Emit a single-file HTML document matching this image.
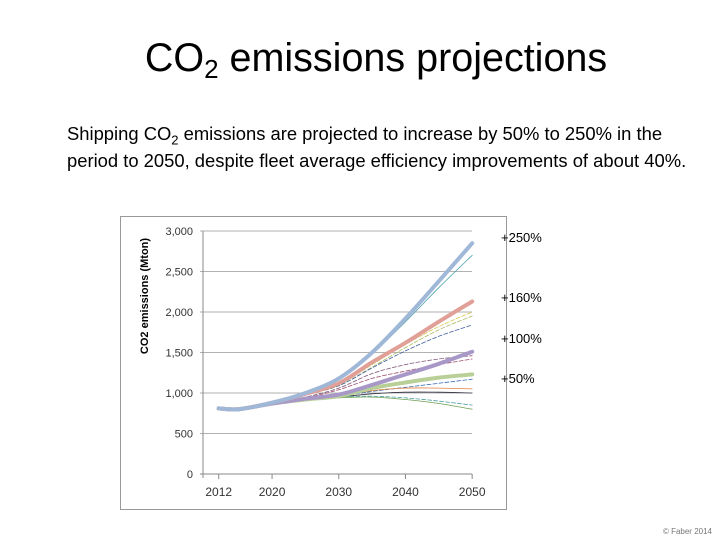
<!DOCTYPE html>
<html><head><meta charset="utf-8"><style>
body{margin:0;width:720px;height:540px;background:#fff;font-family:"Liberation Sans",sans-serif;position:relative;overflow:hidden}
.t{position:absolute;color:#000}
</style></head><body>
<div class="t" style="left:0;width:752px;text-align:center;top:36px;font-size:39.5px;white-space:nowrap">CO<sub style="font-size:26px;vertical-align:-7px">2</sub> emissions projections</div>
<div class="t" style="left:67px;top:120px;font-size:18.4px;line-height:27px;width:660px;white-space:nowrap">Shipping CO<sub style="font-size:13px;line-height:0">2</sub> emissions are projected to increase by 50% to 250% in the<br>period to 2050, despite fleet average efficiency improvements of about 40%.</div>
<svg width="720" height="540" style="position:absolute;left:0;top:0">
<rect x="120.5" y="216.5" width="386" height="293" fill="#fff" stroke="#999"/>
<g id="grid"></g><g id="lines"></g>
<text x="148" y="296" transform="rotate(-90 148 296)" text-anchor="middle" font-size="11" font-weight="bold" font-family="Liberation Sans">CO2 emissions (Mton)</text>
<g font-size="13" font-family="Liberation Sans">
<text x="501" y="242">+250%</text>
<text x="501" y="302">+160%</text>
<text x="501" y="343">+100%</text>
<text x="501" y="383">+50%</text>
</g>
<text x="712" y="534" text-anchor="end" font-size="8" fill="#777">© Faber 2014</text>
</svg>
<script>
const years=[2012,2015,2020,2025,2030,2035,2040,2045,2050];
const yTicks=[0,500,1000,1500,2000,2500,3000];
const xTicks=[2012,2020,2030,2040,2050];
const blueThick=[810,800,880,1000,1180,1500,1920,2380,2850];
const redThick=[810,800,880,990,1120,1380,1620,1880,2130];
const purpleThick=[810,800,870,930,980,1100,1230,1360,1510];
const greenThick=[810,800,870,920,960,1060,1130,1190,1230];
const thin1=[810,800,880,990,1160,1480,1880,2300,2700];
const thin2=[810,800,880,980,1100,1350,1600,1820,2000];
const thin3=[810,800,880,980,1090,1320,1560,1780,1950];
const thin4=[810,800,880,980,1090,1310,1520,1700,1840];
const thin5=[810,800,870,950,1060,1240,1350,1420,1460];
const thin6=[810,800,870,940,1040,1180,1270,1350,1420];
const thin7=[810,800,870,920,960,1020,1070,1120,1170];
const thin8=[810,800,870,920,960,1030,1060,1060,1050];
const thin9=[810,800,870,910,950,990,1010,1010,1000];
const thin10=[810,800,870,920,950,960,940,900,850];
const thin11=[810,800,870,910,940,950,920,870,800];
const X=y=>218.7+(y-2012)*6.67, Y=v=>474-v*0.081;
const ns="http://www.w3.org/2000/svg";
const g=document.getElementById('grid'), L=document.getElementById('lines');
yTicks.forEach(v=>{
 const l=document.createElementNS(ns,'line');
 
 
 l.setAttribute('x1',200);l.setAttribute('x2',472);l.setAttribute('y1',Y(v));l.setAttribute('y2',Y(v));
 l.setAttribute('stroke',v===0?'#888':'#999');l.setAttribute('stroke-width',v===0?1:0.8);g.appendChild(l);
 const t=document.createElementNS(ns,'text');
 
 
 t.setAttribute('x',193);t.setAttribute('y',Y(v)+4);t.setAttribute('text-anchor','end');t.setAttribute('font-size','11');t.setAttribute('fill','#333');
 t.textContent=v.toLocaleString('en-US');g.appendChild(t);
});
const ax=document.createElementNS(ns,'line');


ax.setAttribute('x1',203);ax.setAttribute('x2',203);ax.setAttribute('y1',Y(3000));ax.setAttribute('y2',Y(0)+4);ax.setAttribute('stroke','#888');g.appendChild(ax);
xTicks.forEach(v=>{
 const l=document.createElementNS(ns,'line');
 
 
 l.setAttribute('x1',X(v));l.setAttribute('x2',X(v));l.setAttribute('y1',474);l.setAttribute('y2',479);l.setAttribute('stroke','#888');g.appendChild(l);
 const t=document.createElementNS(ns,'text');
 
 
 t.setAttribute('x',X(v));t.setAttribute('y',496);t.setAttribute('text-anchor','middle');t.setAttribute('font-size','12');t.setAttribute('fill','#333');
 t.textContent=v;g.appendChild(t);
});
function draw(arr,color,w,dash,name){
 const p=document.createElementNS(ns,'path');
 
 
 const pts=arr.map((v,i)=>[X(years[i]),Y(v)]);
 let d='M'+pts[0][0].toFixed(1)+','+pts[0][1].toFixed(1);
 for(let i=0;i<pts.length-1;i++){
  const p0=pts[Math.max(0,i-1)],p1=pts[i],p2=pts[i+1],p3=pts[Math.min(pts.length-1,i+2)];
  const c1=[p1[0]+(p2[0]-p0[0])/6,p1[1]+(p2[1]-p0[1])/6];
  const c2=[p2[0]-(p3[0]-p1[0])/6,p2[1]-(p3[1]-p1[1])/6];
  d+='C'+c1.map(n=>n.toFixed(1)).join(',')+' '+c2.map(n=>n.toFixed(1)).join(',')+' '+p2.map(n=>n.toFixed(1)).join(',');
 }
 p.setAttribute('d',d);p.setAttribute('fill','none');p.setAttribute('stroke',color);p.setAttribute('stroke-width',w);
 p.setAttribute('stroke-linejoin','round');p.setAttribute('stroke-linecap','round');
 if(dash)p.setAttribute('stroke-dasharray',dash);L.appendChild(p);
}
draw(thin1,'#4aa0a8',0.8,null,'series-thin-1');
draw(thin2,'#d8c850',0.8,'4 2','series-thin-2');
draw(thin3,'#a8b860',0.8,'4 2','series-thin-3');
draw(thin4,'#4060a0',0.8,'4 2','series-thin-4');
draw(thin5,'#805878',0.8,'4 2','series-thin-5');
draw(thin6,'#a05070',0.8,'4 2','series-thin-6');
draw(thin7,'#3870b0',0.8,'4 2','series-thin-7');
draw(thin8,'#e08040',0.8,null,'series-thin-8');
draw(thin9,'#303040',0.8,null,'series-thin-9');
draw(thin10,'#50a0a0',0.8,'4 2','series-thin-10');
draw(thin11,'#70a050',0.8,null,'series-thin-11');
draw(greenThick,'#b8d098',4,null,'series-50');
draw(purpleThick,'#a898c8',4,null,'series-100');
draw(redThick,'#e0a098',4,null,'series-160');
draw(blueThick,'#a0b8d8',4,null,'series-250');
</script>
</body></html>
